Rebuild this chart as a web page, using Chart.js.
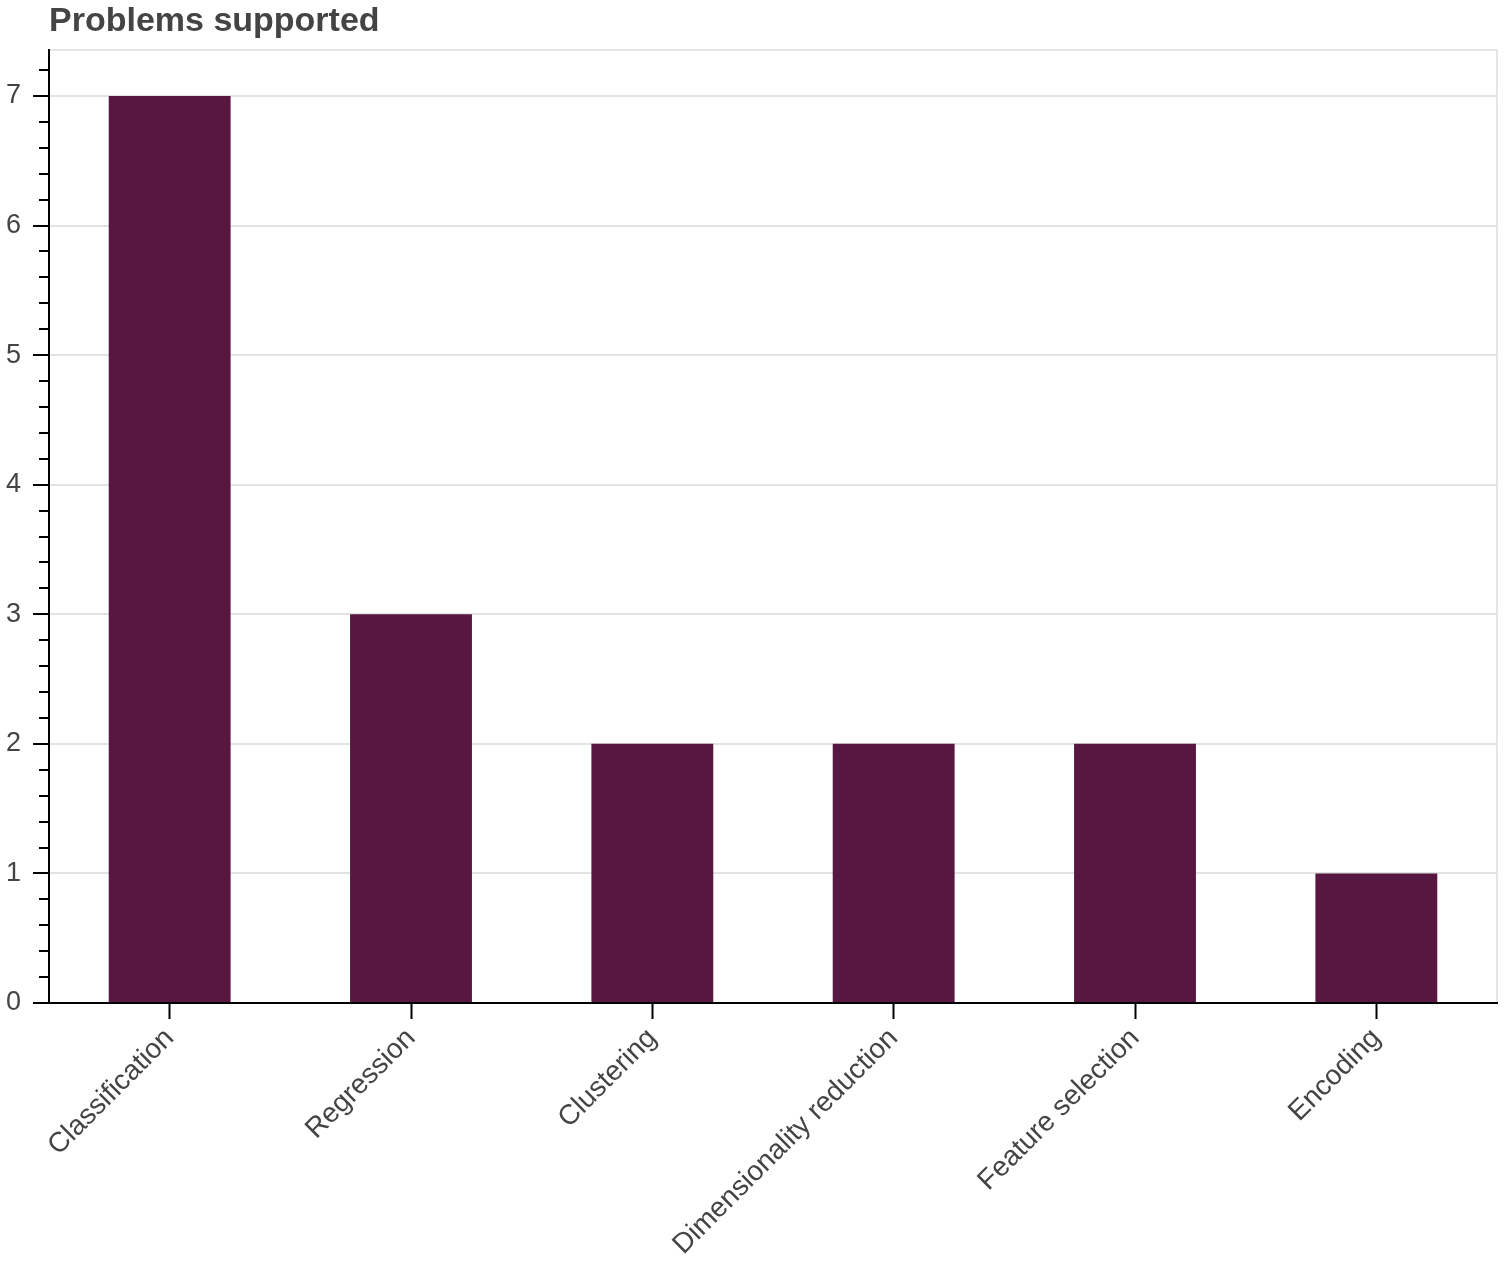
<!DOCTYPE html>
<html>
<head>
<meta charset="utf-8">
<title>Problems supported</title>
<script src="https://cdn.jsdelivr.net/npm/chart.js@4/dist/chart.umd.min.js"></script>
<style>
  body { margin: 0; background: #fff; }
</style>
</head>
<body>
<canvas id="problemsChart" width="1504" height="1266"></canvas>
<script>
// Problem types and how many are supported
const categories = ["Classification", "Regression", "Clustering", "Dimensionality reduction", "Feature selection", "Encoding"];
const counts = [7, 3, 2, 2, 2, 1];
const yTicks = [0, 1, 2, 3, 4, 5, 6, 7];
const yMax = 7.355;
const minorStep = 0.2;

// light frame round the plot, like the original
const frame = {
  id: 'frame',
  beforeDraw(chart) {
    const { ctx, chartArea: a } = chart;
    ctx.save();
    ctx.strokeStyle = '#e6e6e6';
    ctx.lineWidth = 2;
    ctx.strokeRect(a.left, a.top, a.right - a.left, a.bottom - a.top);
    ctx.restore();
  }
};

// minor ticks on the y axis
const minorTicks = {
  id: 'minorTicks',
  afterDraw(chart) {
    const { ctx } = chart;
    const y = chart.scales.y;
    ctx.save();
    ctx.strokeStyle = '#000';
    ctx.lineWidth = 2;
    for (let i = 0; i * minorStep <= yMax; i++) {
      if (i % 5 === 0) continue;
      const py = Math.round(y.getPixelForValue(i * minorStep));
      ctx.beginPath();
      ctx.moveTo(y.right - 10, py);
      ctx.lineTo(y.right, py);
      ctx.stroke();
    }
    ctx.restore();
  }
};

const ctx = document.getElementById('problemsChart').getContext('2d');

const problemsChart = new Chart(ctx, {
  type: 'bar',
  data: {
    labels: categories,
    datasets: [{
      label: 'Problems supported',
      data: counts,
      backgroundColor: '#571741',
      borderWidth: 0,
      barPercentage: 0.505,
      categoryPercentage: 1
    }]
  },
  options: {
    responsive: false,
    animation: false,
    devicePixelRatio: 1,
    layout: { padding: { left: 0, right: 7, top: 0, bottom: 0 } },
    plugins: {
      legend: { display: false },
      tooltip: { enabled: false },
      title: {
        display: true,
        text: 'Problems supported',
        align: 'start',
        fullSize: false,
        color: '#444',
        font: { family: 'Liberation Sans, Arial, sans-serif', size: 34, weight: 'bold', lineHeight: 1.2 },
        padding: { top: 1, bottom: 8.2 }
      }
    },
    scales: {
      x: {
        offset: true,
        grid: {
          display: true,
          offset: false,
          drawOnChartArea: false,
          drawTicks: true,
          tickLength: 16,
          tickColor: '#000',
          tickWidth: 2
        },
        border: { color: '#000', width: 2 },
        ticks: {
          color: '#444',
          minRotation: 45,
          maxRotation: 45,
          autoSkip: false,
          padding: 3,
          font: { family: 'Liberation Sans, Arial, sans-serif', size: 28 }
        },
        afterFit(scale) { scale.height = 263; }
      },
      y: {
        min: 0,
        max: yMax,
        afterBuildTicks(scale) { scale.ticks = yTicks.map(v => ({ value: v })); },
        grid: {
          color: '#e3e3e3',
          lineWidth: 2,
          drawTicks: true,
          tickLength: 16,
          tickColor: '#000',
          tickWidth: 2
        },
        border: { color: '#000', width: 2 },
        ticks: {
          color: '#444',
          padding: 12,
          font: { family: 'Liberation Sans, Arial, sans-serif', size: 27 }
        },
        afterFit(scale) { scale.width = 49; }
      }
    }
  },
  plugins: [frame, minorTicks]
});
</script>
</body>
</html>
